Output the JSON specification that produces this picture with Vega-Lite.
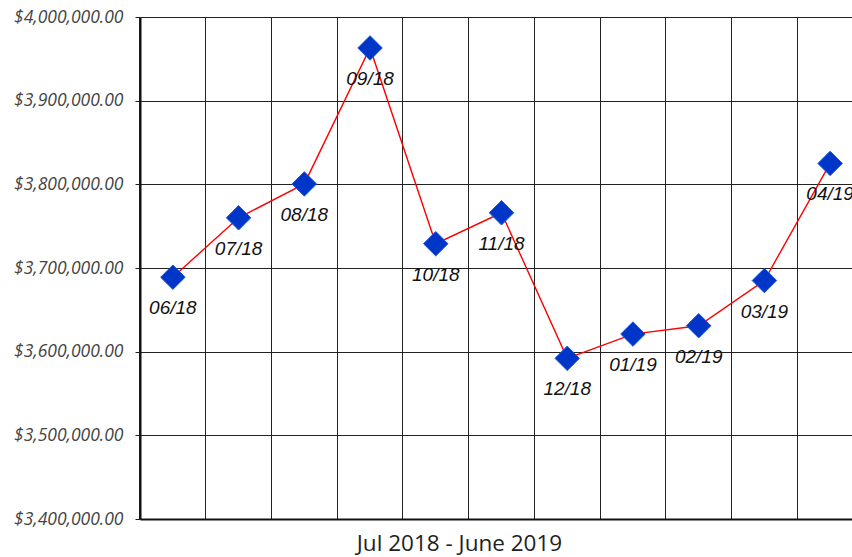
{
  "$schema": "https://vega.github.io/schema/vega-lite/v6.json",
  "autosize": "none",
  "padding": {"left": 140, "top": 17, "right": 0, "bottom": 38},
  "width": 723,
  "height": 502,
  "background": "white",
  "config": {"view": {"stroke": null}},
  "data": {
    "values": [
      {"month": "06/18", "value": 3689000},
      {"month": "07/18", "value": 3760000},
      {"month": "08/18", "value": 3800500},
      {"month": "09/18", "value": 3963000},
      {"month": "10/18", "value": 3729000},
      {"month": "11/18", "value": 3766000},
      {"month": "12/18", "value": 3592000},
      {"month": "01/19", "value": 3621000},
      {"month": "02/19", "value": 3631000},
      {"month": "03/19", "value": 3685000},
      {"month": "04/19", "value": 3825000}
    ]
  },
  "encoding": {
    "x": {
      "field": "month", "type": "ordinal", "sort": null,
      "scale": {"type": "band", "paddingInner": 0, "paddingOuter": 0},
      "axis": {
        "title": "Jul 2018 - June 2019",
        "titleFont": "Open Sans", "titleFontSize": 22.5, "titleFontWeight": "normal",
        "titleColor": "#222", "titleX": 319, "titleY": 36, "titleBaseline": "bottom",
        "labels": false, "ticks": false,
        "grid": true, "gridColor": "#222", "gridWidth": 1, "bandPosition": 0,
        "domain": true, "domainColor": "#111", "domainWidth": 2
      }
    },
    "y": {
      "field": "value", "type": "quantitative",
      "scale": {"domain": [3400000, 4000000], "nice": false, "zero": false},
      "axis": {
        "title": null, "format": "$,.2f",
        "values": [3400000, 3500000, 3600000, 3700000, 3800000, 3900000, 4000000],
        "labelOverlap": false, "labelBound": false, "labelFlush": false,
        "labelFont": "Open Sans", "labelFontStyle": "italic", "labelFontSize": 17.5,
        "labelColor": "#444", "labelPadding": 12, "labelLimit": 200,
        "ticks": true, "tickSize": 5, "tickColor": "#222",
        "grid": true, "gridColor": "#222", "gridWidth": 1,
        "domain": true, "domainColor": "#111", "domainWidth": 2
      }
    }
  },
  "layer": [
    {"mark": {"type": "line", "color": "#ff0000", "strokeWidth": 1.4}},
    {"mark": {"type": "point", "shape": "diamond", "size": 600, "filled": true, "fill": "#0036c8", "stroke": "#1f55e0", "strokeWidth": 1, "opacity": 1}},
    {"mark": {"type": "text", "dy": 31, "font": "Liberation Sans", "fontStyle": "italic", "fontSize": 19, "color": "#111"},
     "encoding": {"text": {"field": "month"}}}
  ]
}
